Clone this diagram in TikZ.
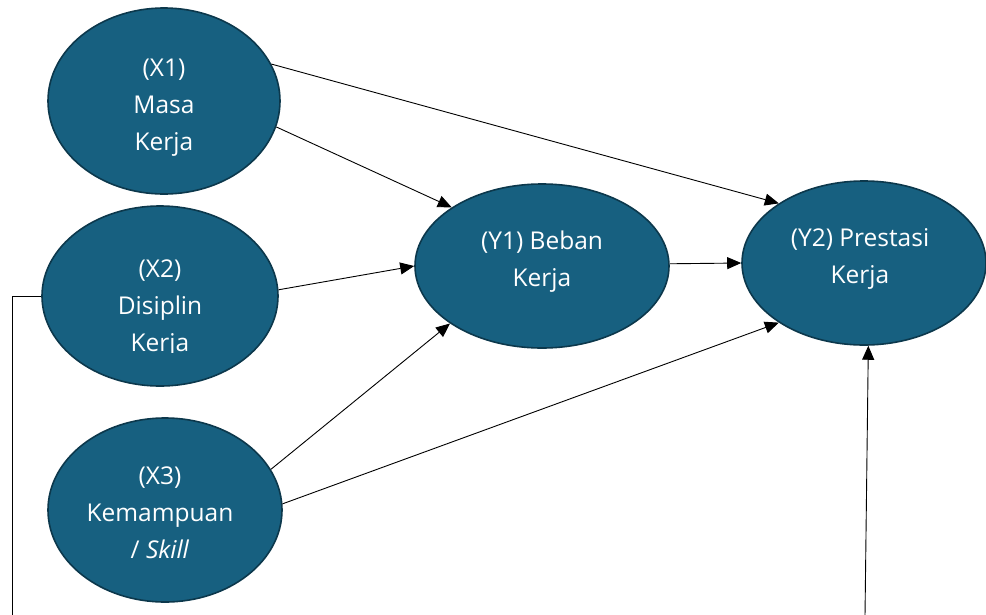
\documentclass[tikz,border=0pt]{standalone}
\usepackage{fontspec}
\setmainfont{Open Sans}
\usetikzlibrary{shapes.geometric,arrows.meta}
\definecolor{nodefill}{RGB}{23,96,128}
\definecolor{nodeedge}{RGB}{12,56,76}
\tikzset{
  var/.style={ellipse, draw=nodeedge, line width=1.6pt, fill=nodefill, inner sep=0pt},
  vartext/.style={text=white, align=center, inner sep=0pt, font=\fontsize{24.5}{37}\selectfont},
  link/.style={draw=black, line width=0.9pt, -{Triangle[length=14pt,width=12pt]}},
  plain/.style={draw=black, line width=0.9pt}
}
\begin{document}
\begin{tikzpicture}[x=1pt,y=-1pt]
\useasboundingbox (0,0) rectangle (986,614);
\node[var, minimum width=232pt, minimum height=186pt] (x1) at (164,101) {};
\node[vartext] (x1t) at (164,108) {(X1)\\Masa\\Kerja};
\node[var, minimum width=236pt, minimum height=180pt] (x2) at (160,296) {};
\begin{scope}
  \clip (0,0) rectangle (986,352.5);
  \node[vartext] (x2t) at (160,309) {(X2)\\Disiplin\\Kerja};
\end{scope}
\node[var, minimum width=234pt, minimum height=184pt] (x3) at (165,510) {};
\node[vartext] (x3t) at (160,513) {(X3)\\Kemampuan\\/ \textit{Skill}};
\node[var, minimum width=254pt, minimum height=164pt] (y1) at (542,266) {};
\node[vartext] (y1t) at (542,262) {(Y1) Beban\\Kerja};
\node[var, minimum width=244pt, minimum height=164pt] (y2) at (864,263) {};
\node[vartext] (y2t) at (860,259) {(Y2) Prestasi\\Kerja};
\coordinate (bl) at (12,616);
\coordinate (br) at (865,616);
\draw[link] (x1.19) -- (y2.145);
\draw[link] (x1.-13) -- (y1.147);
\draw[link] (x2.3) -- (y1.180);
\draw[link] (x3.21) -- (y1.212);
\draw[link] (x3.3) -- (y2.215);
\draw[link] (y1.1) -- (y2.180);
\draw[plain] (x2.west) -| (bl);
\draw[link] (br) -- (y2.273);
\end{tikzpicture}
\end{document}
